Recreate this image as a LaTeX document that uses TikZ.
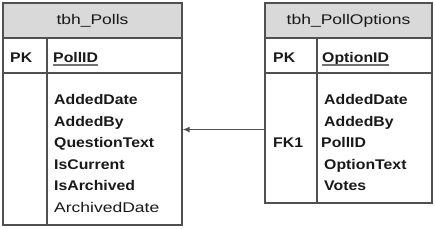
\documentclass[tikz,border=0pt]{standalone}
\usepackage{fontspec}
\setmainfont{Liberation Sans}[FakeStretch=1.25, BoldFeatures={FakeStretch=1.13}]
\usetikzlibrary{arrows.meta}
\definecolor{edge}{RGB}{80,80,80}
\definecolor{headfill}{RGB}{217,217,217}
\definecolor{ink}{RGB}{25,25,25}
\tikzset{
  tablebox/.style={draw=edge, line width=1.4pt, fill=white},
  headbox/.style={draw=edge, line width=1.4pt, fill=headfill},
  rule/.style={draw=edge, line width=1.4pt},
  title/.style={inner sep=0pt, font=\fontsize{14}{16}\selectfont, text=ink},
  field/.style={inner sep=0pt, anchor=base west, font=\fontsize{14}{16}\selectfont\bfseries, text=ink},
  plainfield/.style={inner sep=0pt, anchor=base west, font=\fontsize{14}{16}\selectfont, text=ink},
  keyline/.style={draw=edge!80, line width=1.5pt},
  fk/.style={draw=edge, line width=1.2pt, -{Latex[length=7pt,width=6pt]}}
}
\begin{document}
\begin{tikzpicture}[x=1pt,y=-1pt]
\useasboundingbox (0,0) rectangle (435,228);
% left table
\draw[tablebox] (3,3) rectangle (182,225);
\draw[headbox] (3,3) rectangle (182,38);
\draw[rule] (3,73) -- (182,73);
\draw[rule] (47,38) -- (47,225);
\node[title] (pt) at (92.5,21) {tbh\_Polls};
\node[field] (ppk) at (10,62) {PK};
\node[field] (pid) at (53,62) {PollID};
\draw[keyline] (pid.base west) ++(0,3) -- (pid.base east |- 0,65);
\node[field] (p1) at (54,104.5) {AddedDate};
\node[field] (p2) at (54,126) {AddedBy};
\node[field] (p3) at (54,147.5) {QuestionText};
\node[field] (p4) at (54,169) {IsCurrent};
\node[field] (p5) at (54,190.5) {IsArchived};
\node[plainfield] (p6) at (54,212) {ArchivedDate};
% right table
\draw[tablebox] (265,3) rectangle (432,203);
\draw[headbox] (265,3) rectangle (432,38);
\draw[rule] (265,73) -- (432,73);
\draw[rule] (317,38) -- (317,203);
\node[title] (ot) at (348.5,21) {tbh\_PollOptions};
\node[field] (opk) at (273,62) {PK};
\node[field] (oid) at (322,62) {OptionID};
\draw[keyline] (oid.base west) ++(0,3) -- (oid.base east |- 0,65);
\node[field] (o1) at (324,104.5) {AddedDate};
\node[field] (o2) at (324,126) {AddedBy};
\node[field] (o3) at (321,147.5) {PollID};
\node[field] (o4) at (324,169) {OptionText};
\node[field] (o5) at (324,190.5) {Votes};
\node[field] (ofk) at (273,147.5) {FK1};
% connector
\coordinate (src) at (265,129.5);
\coordinate (dst) at (182.7,129.5);
\draw[fk] (src) -- (dst);
\end{tikzpicture}
\end{document}
